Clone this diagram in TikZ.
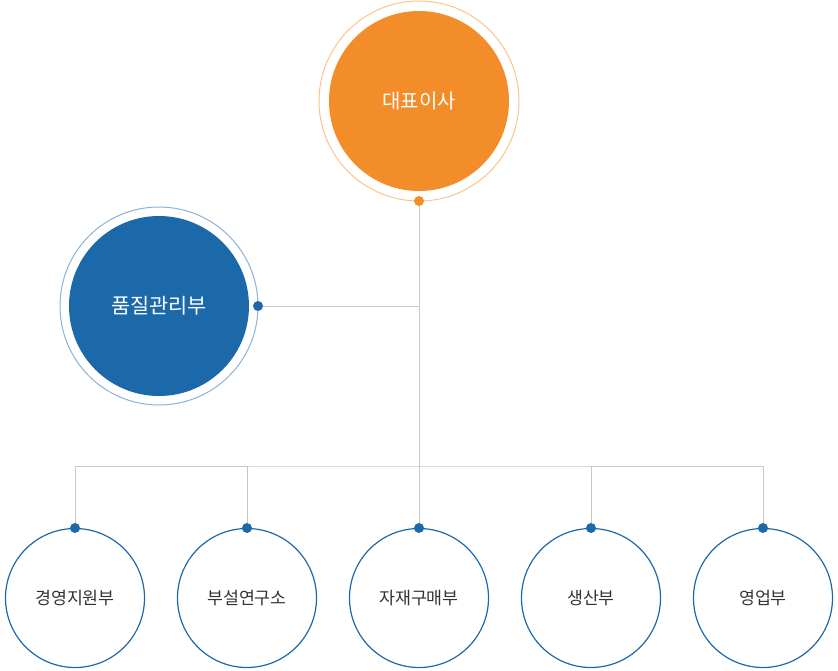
\documentclass[tikz,border=0pt]{standalone}
\usepackage{fontspec}
\setmainfont{Noto Sans CJK KR}
\usetikzlibrary{backgrounds}
\definecolor{ceoOrange}{RGB}{243,141,41}
\definecolor{ringOrange}{RGB}{249,196,140}
\definecolor{deptBlue}{RGB}{27,105,168}
\definecolor{ringBlue}{RGB}{140,178,214}
\definecolor{lineGray}{RGB}{200,200,200}
\definecolor{textGray}{RGB}{51,51,51}
\tikzset{
	bigc/.style={
		circle,inner sep=0pt,minimum size=180pt,text=white,font=\fontsize{20}{22}\selectfont},
	dept/.style={
		circle,draw=deptBlue,line width=1.2pt,inner sep=0pt,minimum size=139pt,
		text=textGray,font=\fontsize{17.3}{19}\selectfont},
	dot/.style={circle,inner sep=0pt,minimum size=10pt},
	link/.style={draw=lineGray,line width=1pt}
}

\begin{document}
\begin{tikzpicture}[x=1pt,y=-1pt]
	\useasboundingbox (0,0) rectangle (838,670);
	% top
	\node[bigc,fill=ceoOrange] (ceo) at (419,101) {대표이사};
	\draw[ringOrange,line width=1pt] (ceo) circle (100);
	\node[dot,fill=ceoOrange] (ceodot) at (419,201) {};
	% quality
	\node[bigc,fill=deptBlue,font=\fontsize{20.8}{22}\selectfont] (qa) at (159,306) {품질관리부};
	\draw[ringBlue,line width=1pt] (qa) circle (99);
	\node[dot,fill=deptBlue] (qadot) at (258,306) {};
	% departments
	\foreach \name/\x/\txt in {mgmt/75/경영지원부,lab/247/부설연구소,buy/419/자재구매부,prod/591/생산부,sales/763/영업부}{
		\node[dept] (\name) at (\x,598) {\txt};
		\node[dot,fill=deptBlue] (\name dot) at (\x,528) {};
	}
	\coordinate (junc) at (419,306);
	\coordinate (bus) at (419,466);
	\begin{scope}[on background layer]
		\draw[link] (ceodot) -- (bus);
		\draw[link] (qadot) -- (junc);
		\draw[link] (mgmtdot) |- (bus) -| (salesdot);
		\draw[link] (labdot) -- (labdot |- bus);
		\draw[link] (buydot) -- (bus);
		\draw[link] (proddot) -- (proddot |- bus);
	\end{scope}
\end{tikzpicture}
\end{document}
